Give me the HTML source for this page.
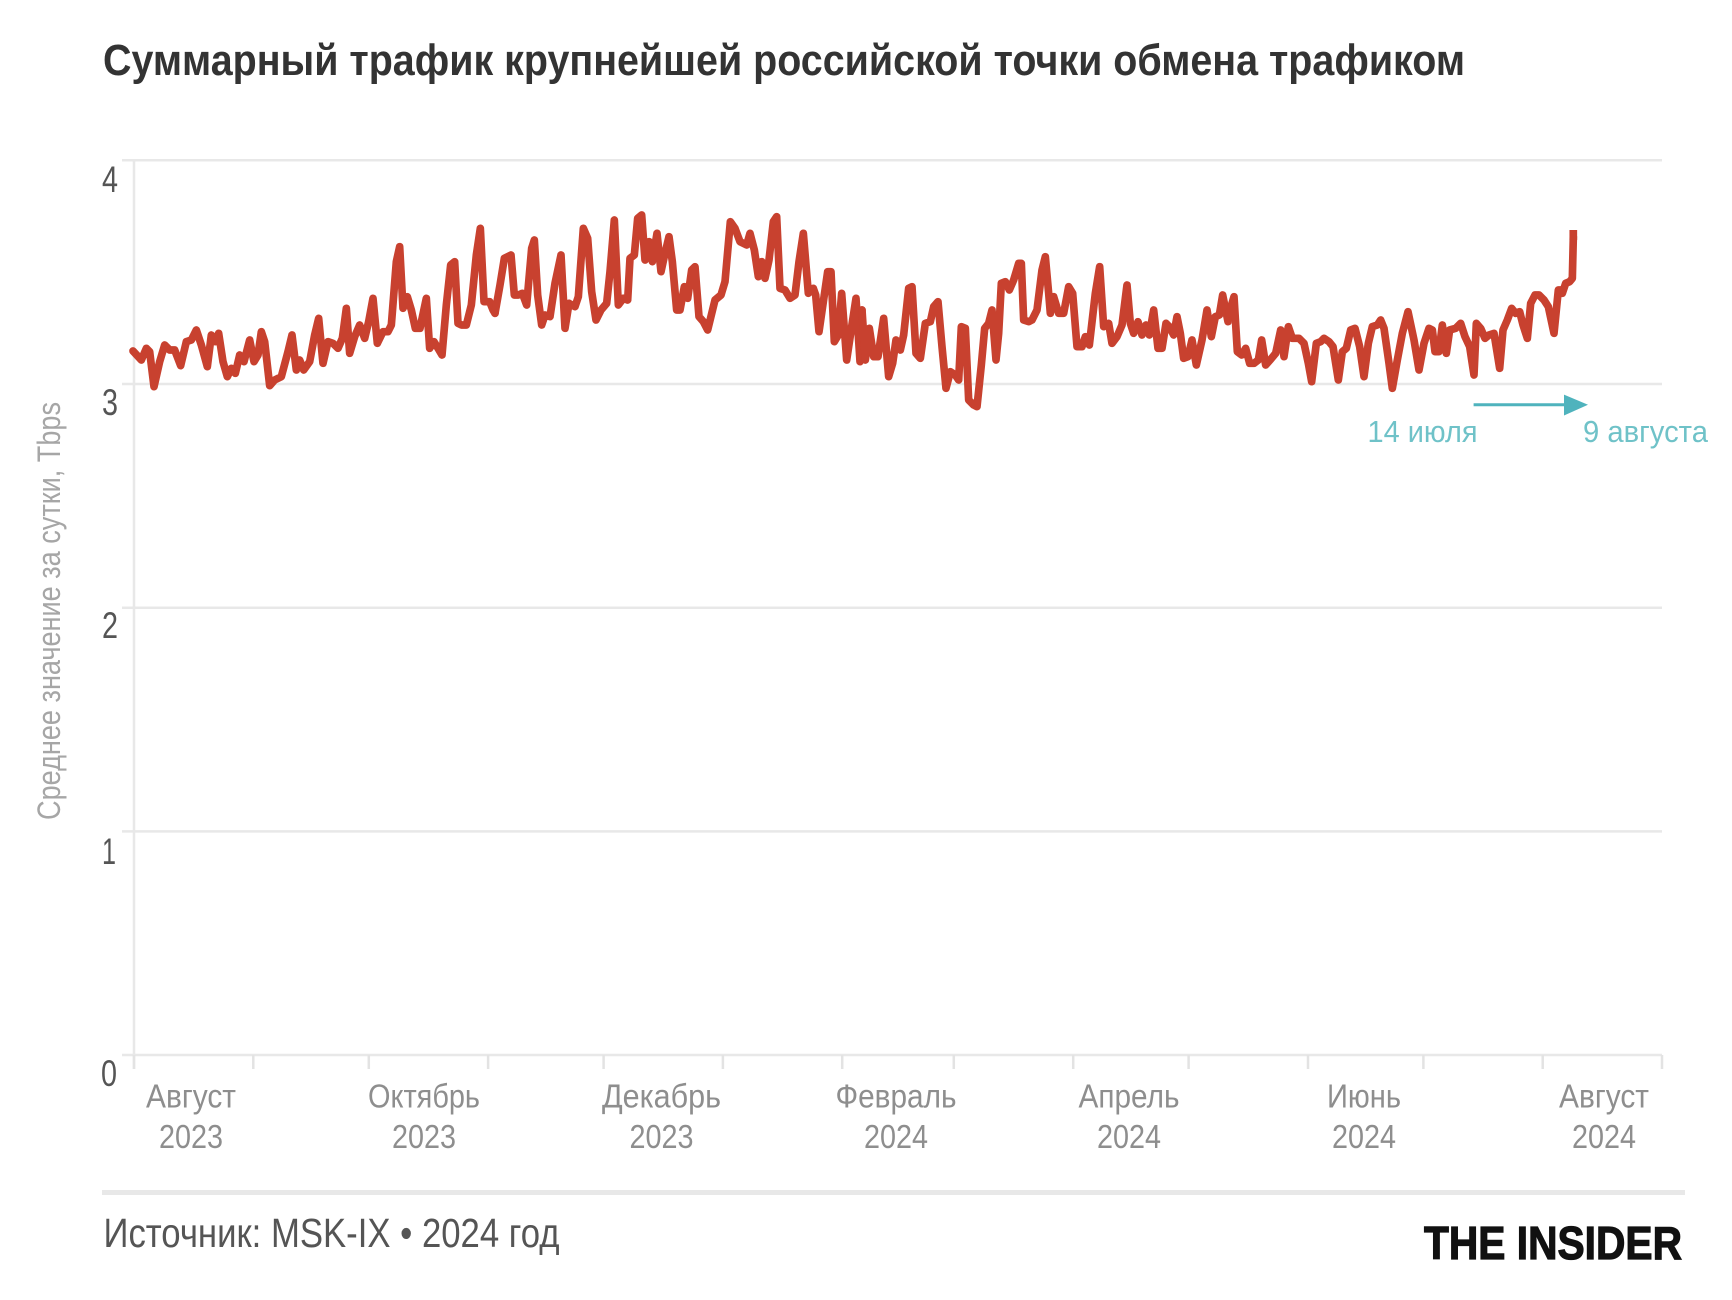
<!DOCTYPE html>
<html>
<head>
<meta charset="utf-8">
<style>
html,body{margin:0;padding:0;background:#fff;}
svg{display:block;}
</style>
</head>
<body>
<svg width="1732" height="1300" viewBox="0 0 1732 1300" xmlns="http://www.w3.org/2000/svg" font-family="'Liberation Sans', sans-serif">
<rect x="0" y="0" width="1732" height="1300" fill="#ffffff"/>

<!-- Title -->
<text x="103" y="75" font-size="44" font-weight="bold" fill="#333333" textLength="1362" lengthAdjust="spacingAndGlyphs">Суммарный трафик крупнейшей российской точки обмена трафиком</text>

<!-- Gridlines -->
<g stroke="#e8e8e8" stroke-width="2.5">
<line x1="122" y1="160.3" x2="1662" y2="160.3"/>
<line x1="122" y1="384" x2="1662" y2="384"/>
<line x1="122" y1="607.7" x2="1662" y2="607.7"/>
<line x1="122" y1="831.4" x2="1662" y2="831.4"/>
<line x1="122" y1="1055" x2="1662" y2="1055"/>
<line x1="134" y1="159" x2="134" y2="1069"/>
</g>
<!-- Ticks -->
<g stroke="#e3e3e3" stroke-width="2.5">
<line x1="134" y1="1055" x2="134" y2="1069"/>
<line x1="253.3" y1="1055" x2="253.3" y2="1069"/>
<line x1="368.8" y1="1055" x2="368.8" y2="1069"/>
<line x1="488.1" y1="1055" x2="488.1" y2="1069"/>
<line x1="603.6" y1="1055" x2="603.6" y2="1069"/>
<line x1="722.9" y1="1055" x2="722.9" y2="1069"/>
<line x1="842.2" y1="1055" x2="842.2" y2="1069"/>
<line x1="953.8" y1="1055" x2="953.8" y2="1069"/>
<line x1="1073.2" y1="1055" x2="1073.2" y2="1069"/>
<line x1="1188.6" y1="1055" x2="1188.6" y2="1069"/>
<line x1="1308" y1="1055" x2="1308" y2="1069"/>
<line x1="1423.4" y1="1055" x2="1423.4" y2="1069"/>
<line x1="1542.7" y1="1055" x2="1542.7" y2="1069"/>
<line x1="1662" y1="1055" x2="1662" y2="1069"/>
</g>

<!-- Y labels -->
<g font-size="37" fill="#555555">
<text x="102" y="192" textLength="16" lengthAdjust="spacingAndGlyphs">4</text>
<text x="102" y="415" textLength="16" lengthAdjust="spacingAndGlyphs">3</text>
<text x="102" y="638" textLength="16" lengthAdjust="spacingAndGlyphs">2</text>
<text x="102" y="864" textLength="14" lengthAdjust="spacingAndGlyphs">1</text>
<text x="101" y="1086" textLength="16" lengthAdjust="spacingAndGlyphs">0</text>
</g>

<!-- Y axis title -->
<text transform="translate(60,820) rotate(-90)" x="0" y="0" font-size="32" fill="#a6a6a6" textLength="418" lengthAdjust="spacingAndGlyphs">Среднее значение за сутки, Tbps</text>

<!-- X labels -->
<g font-size="33" fill="#8e8e8e">
<text x="146" y="1107.5" textLength="90" lengthAdjust="spacingAndGlyphs">Август</text>
<text x="159" y="1148" textLength="64" lengthAdjust="spacingAndGlyphs">2023</text>
<text x="368" y="1107.5" textLength="112" lengthAdjust="spacingAndGlyphs">Октябрь</text>
<text x="392" y="1148" textLength="64" lengthAdjust="spacingAndGlyphs">2023</text>
<text x="602" y="1107.5" textLength="119" lengthAdjust="spacingAndGlyphs">Декабрь</text>
<text x="629.5" y="1148" textLength="64" lengthAdjust="spacingAndGlyphs">2023</text>
<text x="835.5" y="1107.5" textLength="121" lengthAdjust="spacingAndGlyphs">Февраль</text>
<text x="864" y="1148" textLength="64" lengthAdjust="spacingAndGlyphs">2024</text>
<text x="1078.5" y="1107.5" textLength="101" lengthAdjust="spacingAndGlyphs">Апрель</text>
<text x="1097" y="1148" textLength="64" lengthAdjust="spacingAndGlyphs">2024</text>
<text x="1327" y="1107.5" textLength="74" lengthAdjust="spacingAndGlyphs">Июнь</text>
<text x="1332" y="1148" textLength="64" lengthAdjust="spacingAndGlyphs">2024</text>
<text x="1559" y="1107.5" textLength="90" lengthAdjust="spacingAndGlyphs">Август</text>
<text x="1572" y="1148" textLength="64" lengthAdjust="spacingAndGlyphs">2024</text>
</g>

<!-- Data line -->
<g fill="none" stroke="#c8412f" stroke-width="23" stroke-linejoin="round" stroke-linecap="round">
<polyline transform="translate(128,195) scale(0.333333)" points="15,468 40,495 55,460 65,470 78,575 95,500 110,450 125,465 140,465 158,512 175,440 190,435 205,405 220,450 238,515 250,420 262,440 272,415 285,500 298,545 310,520 322,535 335,480 348,500 365,435 378,500 390,480 400,410 410,440 425,572 440,555 460,545 480,470 492,420 505,525 515,495 527,525 545,500 560,420 572,370 585,505 600,440 615,445 630,460 643,430 655,340 665,475 680,425 695,390 710,430 722,380 735,310 748,445 765,410 780,410 790,390 805,200 815,155 825,340 838,305 850,345 862,400 876,400 895,310 905,460 918,440 930,460 942,480 955,330 968,210 980,200 990,385 1000,390 1015,390 1030,330 1045,180 1057,100 1068,320 1085,320 1095,345 1101,355"/>
<polyline transform="translate(495,195) scale(0.333333)" points="0,355 15,270 28,190 48,180 58,300 70,300 82,295 95,330 110,160 118,135 128,300 140,390 150,360 165,365 180,265 198,180 210,400 222,325 240,335 250,305 265,100 278,130 290,290 303,375 318,345 335,325 345,230 358,75 370,330 385,310 398,315 405,190 418,180 428,70 440,60 450,195 462,140 472,200 486,115 498,230 510,175 522,125 532,200 545,345 555,345 568,275 578,310 590,225 600,215 612,365 625,380 638,405 660,315 678,300 690,260 706,80 720,100 735,140 755,150 765,115 778,165 790,245 800,200 810,250 822,195 835,80 845,65 855,280 870,285 885,310 900,300 912,200 925,115 940,295 955,280 962,300 972,410 985,320 998,230 1008,230 1018,440 1030,420 1040,295 1055,495 1070,395 1083,310 1095,500 1101,345"/>
<polyline transform="translate(862,200) scale(0.333333)" points="0,330 10,480 22,385 35,470 48,470 65,355 80,530 92,490 102,420 115,450 125,405 140,265 150,260 162,460 175,475 190,370 205,365 215,320 228,305 240,440 252,565 265,515 280,525 290,540 298,380 310,385 320,600 335,615 345,620 358,495 368,385 380,370 390,330 402,480 410,400 418,250 430,245 442,270 455,240 470,190 478,190 485,360 500,365 510,360 525,330 540,210 550,170 560,280 565,340 575,290 590,340 605,340 620,260 632,280 645,440 660,440 670,410 682,435 700,280 713,200 725,380 740,370 750,430 765,410 780,375 795,255 805,370 815,400 828,365 840,405 852,375 862,405 875,330 888,445 900,445 912,370 922,380 935,405 945,350 955,400 965,475 978,470 990,420 1003,495 1020,420 1035,330 1048,410 1060,350 1072,345 1082,285 1098,365 1101,340"/>
<polyline transform="translate(1229,200) scale(0.333333)" points="0,340 15,290 25,455 38,465 50,445 62,490 75,490 88,480 98,420 110,495 125,478 140,460 155,390 165,470 178,380 190,415 210,415 225,430 238,490 248,545 262,430 275,425 285,415 300,425 312,440 328,540 340,455 352,445 365,390 378,385 392,440 405,530 418,430 430,380 445,375 455,360 465,385 480,490 490,565 505,480 520,400 537,335 555,420 570,510 585,430 600,385 610,390 618,455 630,455 640,375 652,460 662,390 680,385 695,370 708,410 722,440 735,525 742,370 755,385 768,415 780,405 795,400 812,505 822,390 835,360 848,325 860,340 872,335 882,375 895,415 905,310 918,285 930,285 945,300 958,320 975,400 988,270 995,270 1000,280 1010,250 1022,245 1030,235 1033,110"/>
</g>
<line x1="1573.3" y1="240" x2="1573.3" y2="230" stroke="#c8412f" stroke-width="7.7"/>

<!-- Annotation -->
<line x1="1473.6" y1="404.7" x2="1570" y2="404.7" stroke="#4fb3bd" stroke-width="3"/>
<polygon points="1564,394.6 1588,404.7 1564,415.5" fill="#4fb3bd"/>
<text x="1367.5" y="442" font-size="31" fill="#6fc2c8" textLength="110" lengthAdjust="spacingAndGlyphs">14 июля</text>
<text x="1583" y="442" font-size="31" fill="#6fc2c8" textLength="125" lengthAdjust="spacingAndGlyphs">9 августа</text>

<!-- Footer -->
<rect x="102" y="1190" width="1583" height="5" fill="#e8e8e8"/>
<text x="103.5" y="1247" font-size="41" fill="#555555" textLength="456" lengthAdjust="spacingAndGlyphs">Источник: MSK-IX • 2024 год</text>
<text x="1424" y="1259" font-size="46" font-weight="bold" fill="#111111" stroke="#111111" stroke-width="1.2" textLength="258" lengthAdjust="spacingAndGlyphs">THE INSIDER</text>
</svg>
</body>
</html>
